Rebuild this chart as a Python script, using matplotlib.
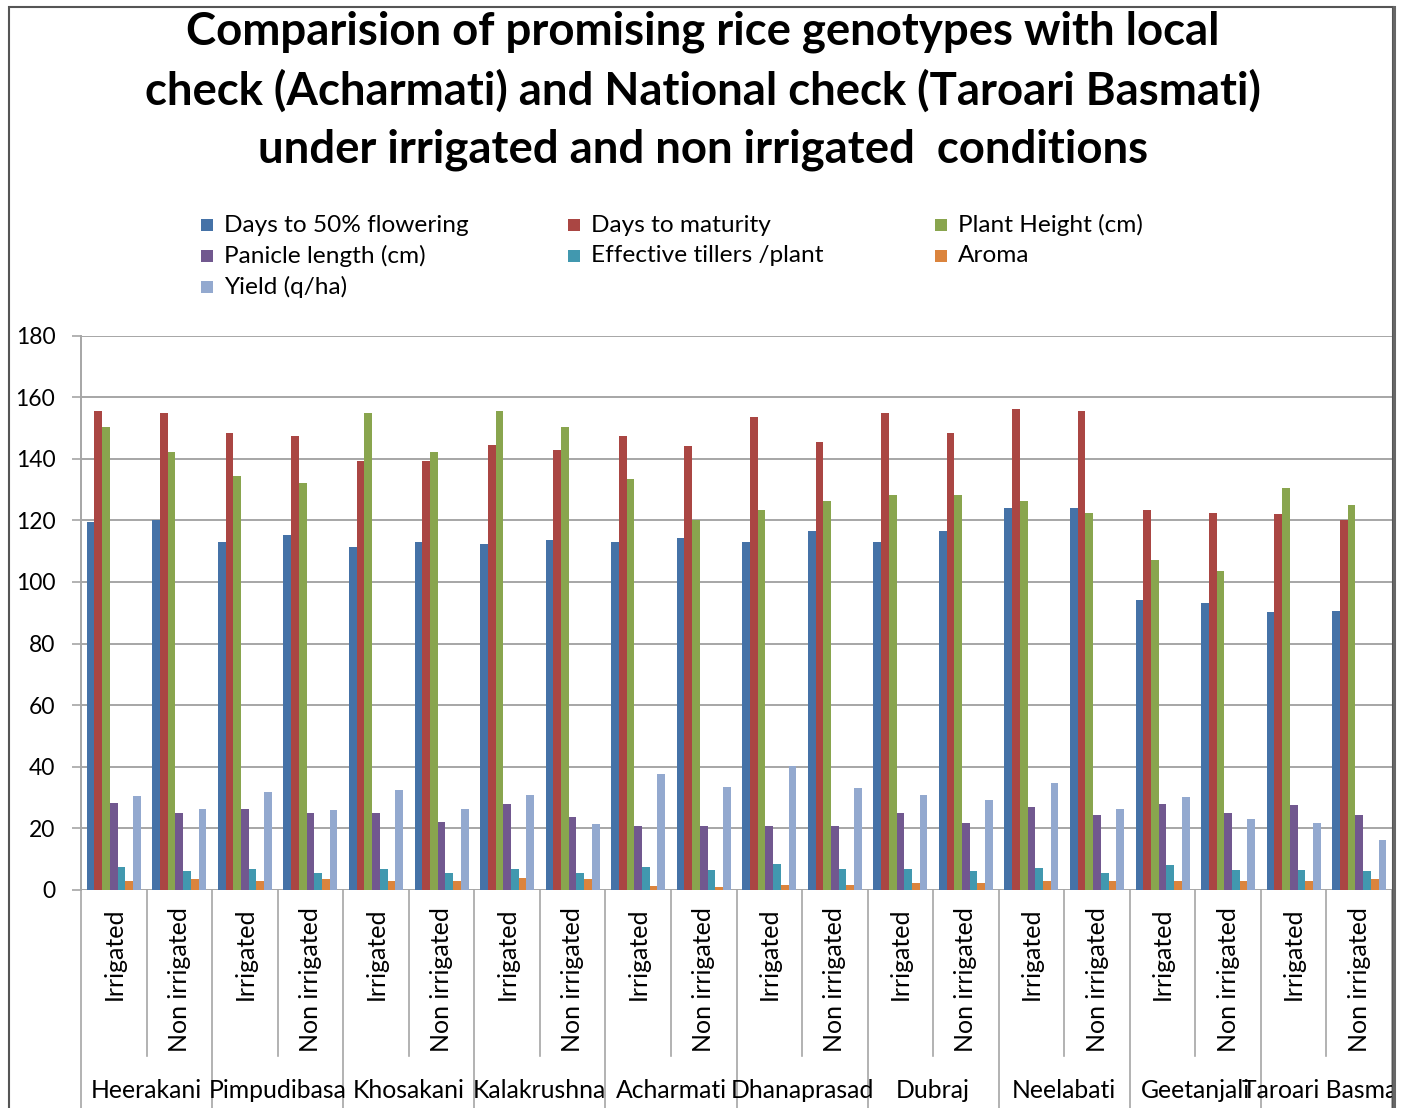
import matplotlib
matplotlib.use("Agg")
import matplotlib.pyplot as plt
import numpy as np
from matplotlib.patches import Rectangle
from matplotlib.transforms import blended_transform_factory, Bbox, TransformedBbox

plt.rcParams['font.family'] = ['Lato', 'DejaVu Sans']

# ---- data -------------------------------------------------------------
genotypes = ["Heerakani", "Pimpudibasa", "Khosakani", "Kalakrushna", "Acharmati",
             "Dhanaprasad", "Dubraj", "Neelabati", "Geetanjali", "Taroari Basmati"]
conditions = ["Irrigated", "Non irrigated"]

series_names = ["Days to 50% flowering", "Days to maturity", "Plant Height (cm)",
                "Panicle length (cm)", "Effective tillers /plant", "Aroma", "Yield (q/ha)"]

days_50_flowering = [119.5, 120.1, 113.0, 115.3, 111.4, 113.0, 112.3, 113.6, 113.0, 114.3,
                     113.0, 116.5, 113.0, 116.5, 124.1, 124.1, 94.1, 93.2, 90.2, 90.7]
days_to_maturity = [155.5, 154.7, 148.3, 147.4, 139.4, 139.4, 144.5, 142.7, 147.4, 144.0,
                    153.4, 145.3, 154.7, 148.3, 156.3, 155.5, 123.2, 122.5, 122.0, 120.1]
plant_height = [150.4, 142.3, 134.3, 132.1, 154.7, 142.3, 155.5, 150.4, 133.5, 120.1,
                123.2, 126.2, 128.3, 128.3, 126.2, 122.5, 107.2, 103.4, 130.5, 124.9]
panicle_length = [28.4, 25.1, 26.4, 25.1, 25.1, 22.1, 28.0, 23.8, 20.8, 20.8,
                  20.8, 20.8, 25.1, 21.7, 26.8, 24.2, 28.0, 25.1, 27.5, 24.2]
effective_tillers = [7.6, 6.1, 6.8, 5.6, 6.8, 5.6, 6.8, 5.6, 7.6, 6.4,
                     8.6, 6.8, 6.8, 6.1, 7.3, 5.6, 8.1, 6.4, 6.4, 6.1]
aroma = [3.0, 3.5, 3.0, 3.5, 3.0, 3.0, 3.9, 3.5, 1.3, 0.9,
         1.7, 1.7, 2.2, 2.2, 3.0, 3.0, 3.0, 3.0, 3.0, 3.5]
yield_qha = [30.6, 26.4, 31.9, 25.9, 32.6, 26.4, 31.0, 21.3, 37.7, 33.5,
             40.1, 33.1, 31.0, 29.3, 34.8, 26.4, 30.2, 23.0, 21.7, 16.2]

series_values = [days_50_flowering, days_to_maturity, plant_height, panicle_length,
                 effective_tillers, aroma, yield_qha]
series_colors = ["#4572A7", "#AA4643", "#89A54E", "#71588F", "#4198AF", "#DB843D", "#93A9CF"]

y_ticks = [0, 20, 40, 60, 80, 100, 120, 140, 160, 180]

title_lines = ["Comparision of promising rice genotypes with local",
               "check (Acharmati) and National check (Taroari Basmati)",
               "under irrigated and non irrigated  conditions"]

# ---- figure / layout --------------------------------------------------
W, H = 1407, 1108
fig = plt.figure(figsize=(W / 100, H / 100), dpi=100)

def fx(px):
    return px / W

def fy(py):
    return 1 - py / H

ax_left, ax_right, ax_top, ax_bottom = 81, 1392, 335.5, 890
ax = fig.add_axes([fx(ax_left), fy(ax_bottom), fx(ax_right - ax_left), (ax_bottom - ax_top) / H])

grid_color = "#A6A6A6"
n_cat = len(genotypes) * len(conditions)
x = np.arange(n_cat)
n_ser = len(series_values)
bar_w = 0.1177

for j, (vals, col) in enumerate(zip(series_values, series_colors)):
    ax.bar(x + (j - (n_ser - 1) / 2) * bar_w, vals, width=bar_w, color=col,
           edgecolor="none", zorder=3)

ax.set_xlim(-0.5, n_cat - 0.5)
ax.set_ylim(0, 180)
ax.set_yticks(y_ticks)
ax.set_yticklabels([str(t) for t in y_ticks], fontsize=16.5, color="#000000")
ax.yaxis.grid(True, color=grid_color, linewidth=1.4, zorder=0)
ax.set_axisbelow(True)
ax.tick_params(axis="y", length=6.5, width=1.2, color=grid_color, pad=12)
ax.set_xticks([])
for s in ["top", "right", "bottom"]:
    ax.spines[s].set_visible(False)
ax.spines["left"].set_color(grid_color)
ax.spines["left"].set_linewidth(1.4)

# ---- category axis with two levels -----------------------------------
trans = blended_transform_factory(ax.transData, fig.transFigure)
for k in range(n_cat + 1):
    xb = k - 0.5
    y_end = 0.0 if k % 2 == 0 else fy(1056)
    ax.plot([xb, xb], [fy(ax_bottom), y_end], transform=trans, color=grid_color,
            linewidth=1.2, clip_on=False, zorder=1)

for i in range(n_cat):
    ax.text(i, fy(907), conditions[i % 2], transform=trans, rotation=90,
            ha="center", va="top", fontsize=18, color="#000000")

clip_bb = TransformedBbox(Bbox([[0, 0], [fx(1393), 1]]), fig.transFigure)
for g, name in enumerate(genotypes):
    t = ax.text(2 * g + 0.5, fy(1091), name, transform=trans, ha="center",
                va="center", fontsize=17.8, color="#000000")
    t.set_clip_box(clip_bb)
    t.set_clip_on(True)

# ---- title -----------------------------------------------------------
for line, ypx in zip(title_lines, [32, 91, 150]):
    fig.text(fx(703), fy(ypx), line, ha="center", va="center", fontsize=32.8,
             fontweight="bold", color="#000000")

# ---- legend (row-major, three columns) -------------------------------
for i, (name, col) in enumerate(zip(series_names, series_colors)):
    r, c = divmod(i, 3)
    x0 = 201 + c * 367
    y0 = 225 + r * 31
    fig.patches.append(Rectangle((fx(x0), fy(y0 + 6)), fx(12), 12 / H,
                                 transform=fig.transFigure, facecolor=col,
                                 edgecolor="none"))
    fig.text(fx(x0 + 23), fy(y0), name, ha="left", va="center", fontsize=17.6,
             color="#000000")

# ---- chart border ----------------------------------------------------
fig.patches.append(Rectangle((fx(9), fy(H + 20)), fx(1393 - 9), (H + 20 - 7) / H,
                             transform=fig.transFigure, facecolor="none",
                             edgecolor="#555555", linewidth=1.5))
fig.add_artist(plt.Line2D([fx(1393.5), fx(1393.5)], [0, fy(7)], transform=fig.transFigure,
                          color="#666666", linewidth=2.2))

fig.savefig("out.png", dpi=100)
